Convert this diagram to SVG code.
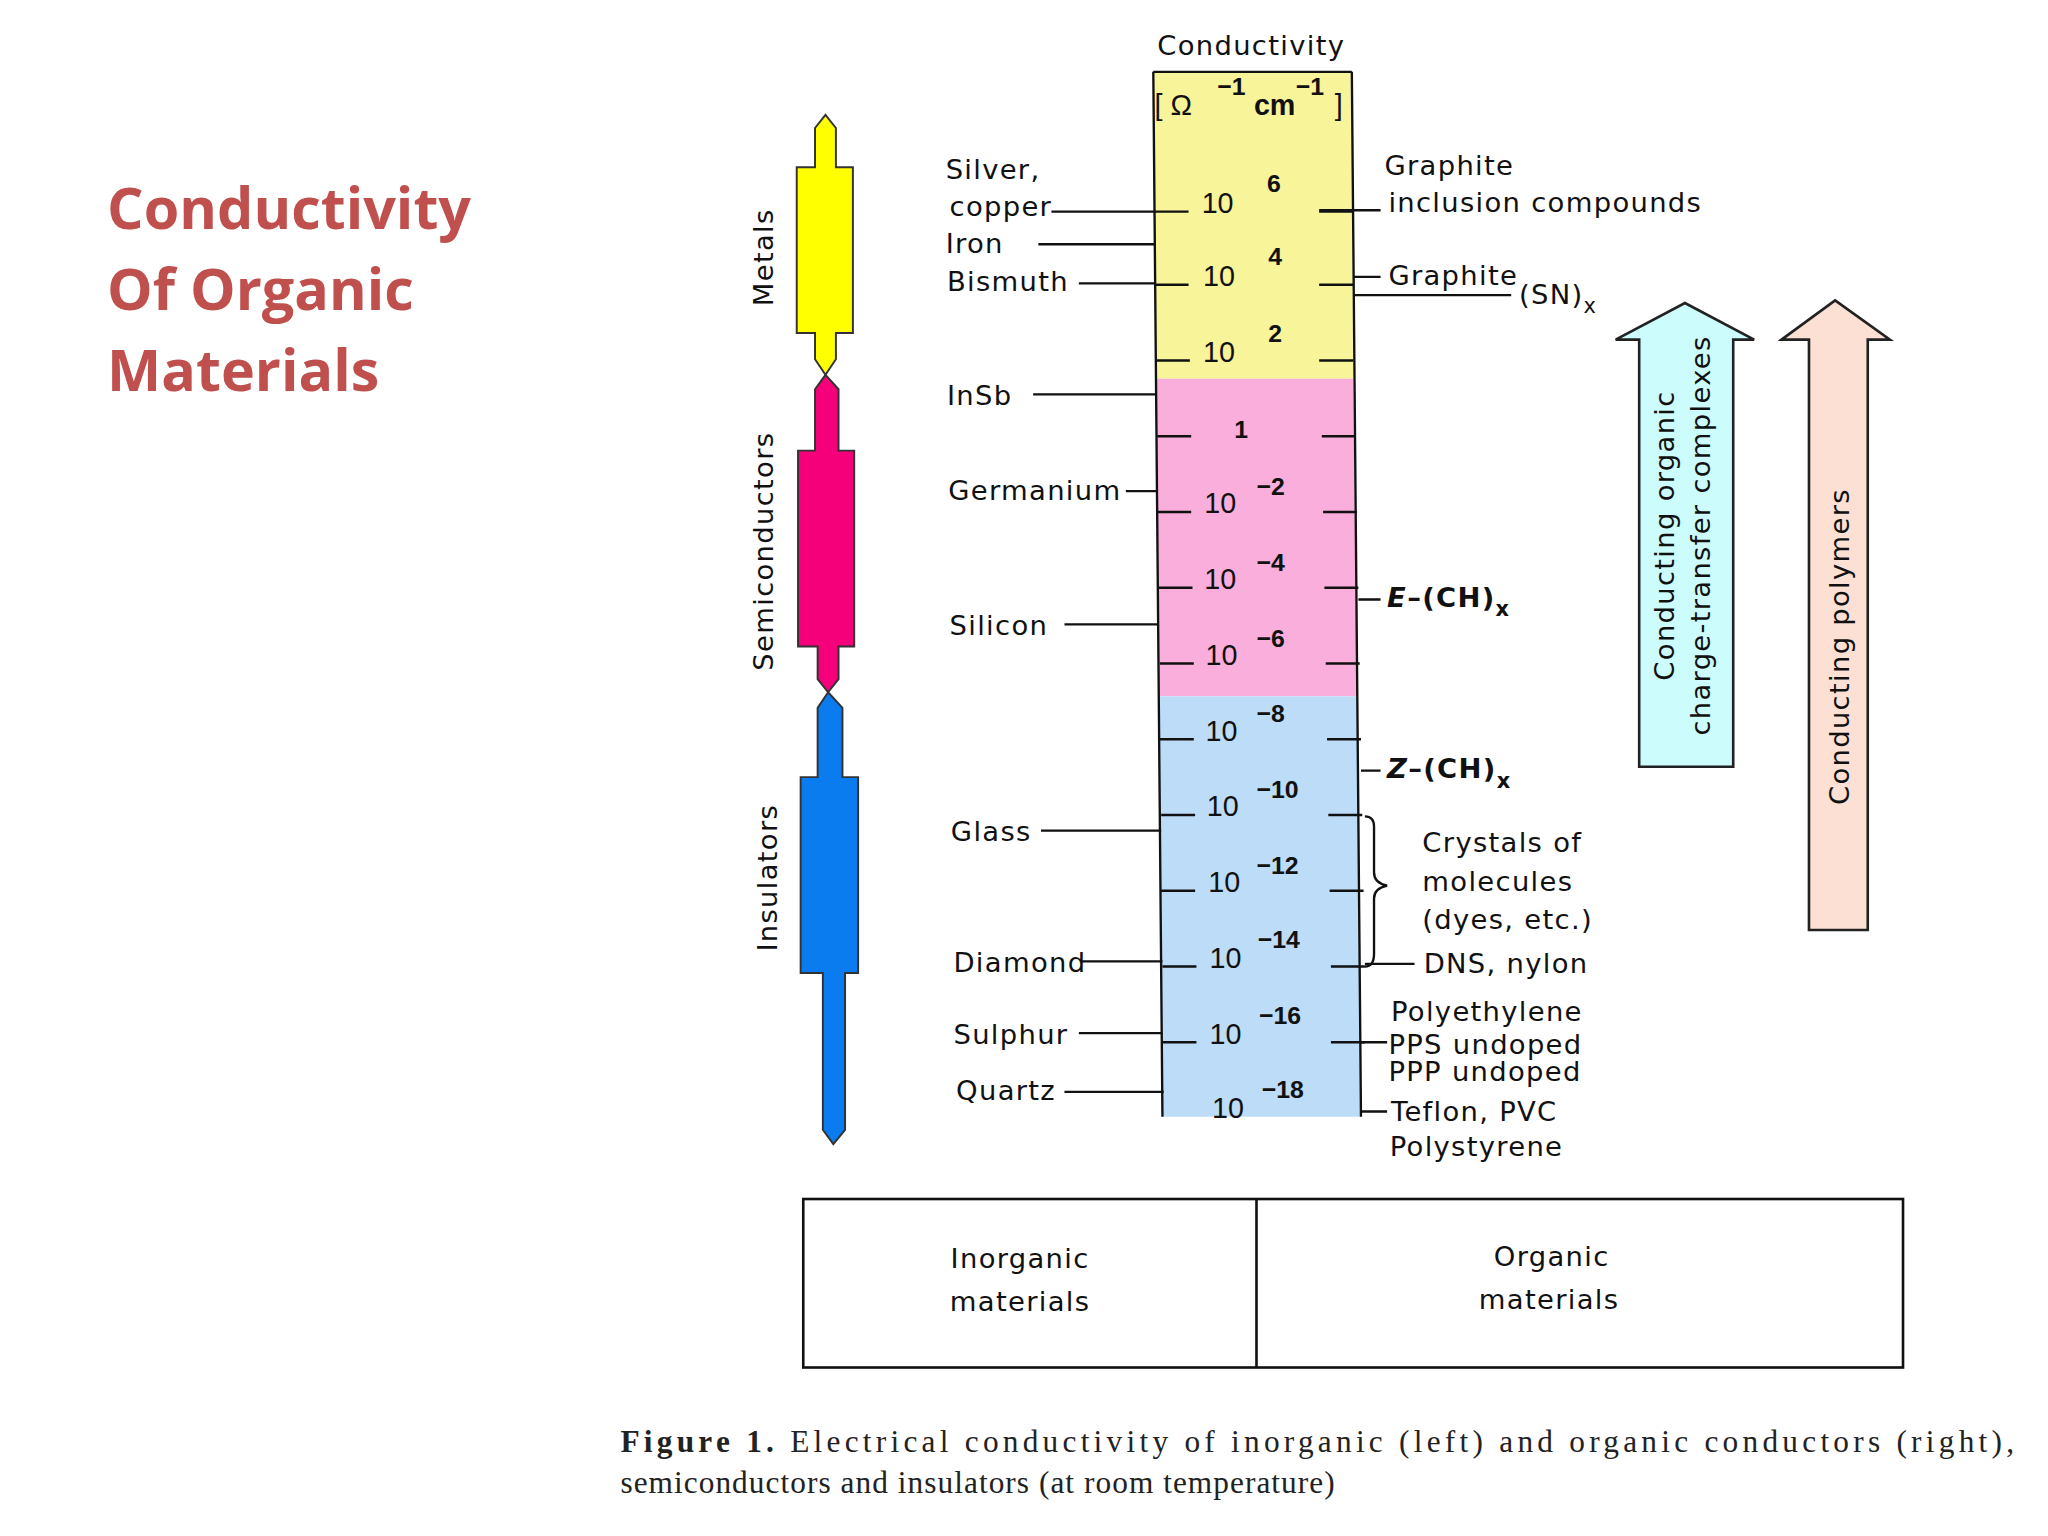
<svg xmlns="http://www.w3.org/2000/svg" width="2048" height="1536" viewBox="0 0 2048 1536">
<style>
.t{font-family:"DejaVu Sans","Liberation Sans",sans-serif;font-size:21px;letter-spacing:1px;fill:#111}
.n{font-family:"Liberation Sans",Arial,sans-serif;font-size:22px;fill:#111}
.e{font-family:"Liberation Sans",Arial,sans-serif;font-size:19px;font-weight:bold;fill:#111}
.ln{stroke:#111;stroke-width:1.8;fill:none}
.ttl{font-family:"Open Sans","Liberation Sans",sans-serif;font-size:44px;font-weight:bold;fill:#c0504d}
.cap{font-family:"Liberation Serif","Times New Roman",serif;font-size:24px;fill:#222}
</style>
<rect width="2048" height="1536" fill="#fff"/>
<g transform="scale(1.30612)">
<g id="title">
<text class="ttl" x="82" y="175">Conductivity</text>
<text class="ttl" x="82" y="237">Of Organic</text>
<text class="ttl" x="82" y="299">Materials</text>
</g>
<g id="bars">
<g stroke="#333" stroke-width="1.5">
<polygon fill="#ffff00" points="632,88 640,98 640,128 653,128 653,255 640,255 640,275 632,287 624,275 624,255 610,255 610,128 624,128 624,98"/>
<polygon fill="#f5007a" points="632,287 642,298 642,345 654,345 654,495 642,495 642,520 634,530 626,520 626,495 611,495 611,345 624,345 624,298"/>
<polygon fill="#0a7cf0" points="634,530 645,542 645,595 657,595 657,745 647,745 647,865 638,876 630,865 630,745 613,745 613,595 626,595 626,542"/>
</g>
<text class="t" transform="translate(592,197) rotate(-90)" text-anchor="middle">Metals</text>
<text class="t" transform="translate(592,422) rotate(-90)" text-anchor="middle">Semiconductors</text>
<text class="t" transform="translate(595,672) rotate(-90)" text-anchor="middle">Insulators</text>
</g>
<g id="column">
<polygon fill="#f8f49a" points="883,55 1035,55 1036,290 885,290"/>
<polygon fill="#f9aedb" points="885,290 1036,290 1039,533 887,533"/>
<polygon fill="#bcdcf8" points="887,533 1039,533 1042,855 890,855"/>
<path class="ln" d="M883,55 L1035,55 M883,55 L890,855 M1035,55 L1042,855"/>
<text class="t" x="958" y="42" text-anchor="middle">Conductivity</text>
<text class="n" x="884" y="88">[ Ω</text>
<text class="e" x="932" y="73">−1</text>
<text class="n" x="960" y="88" font-weight="bold">cm</text>
<text class="e" x="992" y="73">−1</text>
<text class="n" x="1022" y="88">]</text>
</g>
<g id="ticks" class="ln">
<path d="M884,162h26M1010,162h26M884,218h26M1010,218h26M885,276h26M1010,276h26M886,334h26M1012,334h26M886,392h26M1013,392h26M887,450h26M1014,450h26M888,508h26M1015,508h26M888,566h26M1016,566h26M889,624h26M1017,624h26M889,682h26M1018,682h26M890,740h26M1019,740h26M890,798h26M1019,798h26"/>
</g>
<g id="scale">
<text class="n" x="920" y="163">10</text><text class="e" x="970" y="147">6</text>
<text class="n" x="921" y="219">10</text><text class="e" x="971" y="203">4</text>
<text class="n" x="921" y="277">10</text><text class="e" x="971" y="262">2</text>
<text class="e" x="945" y="335">1</text>
<text class="n" x="922" y="393">10</text><text class="e" x="962" y="379">−2</text>
<text class="n" x="922" y="451">10</text><text class="e" x="962" y="437">−4</text>
<text class="n" x="923" y="509">10</text><text class="e" x="962" y="495">−6</text>
<text class="n" x="923" y="567">10</text><text class="e" x="962" y="553">−8</text>
<text class="n" x="924" y="625">10</text><text class="e" x="962" y="611">−10</text>
<text class="n" x="925" y="683">10</text><text class="e" x="962" y="669">−12</text>
<text class="n" x="926" y="741">10</text><text class="e" x="963" y="726">−14</text>
<text class="n" x="926" y="799">10</text><text class="e" x="964" y="784">−16</text>
<text class="n" x="928" y="856">10</text><text class="e" x="966" y="841">−18</text>
</g>
<g id="connectors" class="ln">
<path d="M805,162H884M795,187H884M826,217H884M791,302H885M862,376H886M815,478H887M797,636H889M828,736H890M826,791H890M815,836H891"/>
<path d="M1010,161H1057M1036,212H1057M1036,226H1157M1040,459H1057M1042,590H1057M1045,738H1083M1042,798H1062M1042,851H1062"/>
<path d="M1045,625 q7,0 7,8 v35 q0,8 10,10 q-10,2 -10,10 v42 q0,10 -7,10"/>
</g>
<g id="left-labels" class="t">
<text x="724" y="137">Silver,</text>
<text x="727" y="165">copper</text>
<text x="724" y="194">Iron</text>
<text x="725" y="223">Bismuth</text>
<text x="725" y="310">InSb</text>
<text x="726" y="383">Germanium</text>
<text x="727" y="486">Silicon</text>
<text x="728" y="644">Glass</text>
<text x="730" y="744">Diamond</text>
<text x="730" y="799">Sulphur</text>
<text x="732" y="842">Quartz</text>
</g>
<g id="right-labels" class="t">
<text x="1060" y="134">Graphite</text>
<text x="1063" y="162">inclusion compounds</text>
<text x="1063" y="218">Graphite</text>
<text x="1163" y="233">(SN)<tspan font-size="16" dy="7">x</tspan></text>
<text x="1062" y="465" font-weight="bold"><tspan font-style="italic">E</tspan>–(CH)<tspan font-size="16" dy="7">x</tspan></text>
<text x="1062" y="596" font-weight="bold"><tspan font-style="italic">Z</tspan>–(CH)<tspan font-size="16" dy="7">x</tspan></text>
<text x="1089" y="652">Crystals of</text>
<text x="1089" y="682">molecules</text>
<text x="1089" y="711">(dyes, etc.)</text>
<text x="1090" y="745">DNS, nylon</text>
<text x="1065" y="782">Polyethylene</text>
<text x="1063" y="807">PPS undoped</text>
<text x="1063" y="828">PPP undoped</text>
<text x="1065" y="858">Teflon, PVC</text>
<text x="1064" y="885">Polystyrene</text>
</g>
<g id="arrow-ct">
<polygon fill="#ccfcfc" stroke="#222" stroke-width="2" points="1290,232 1343,260 1327,260 1327,587 1255,587 1255,260 1237,260"/>
<text class="t" transform="translate(1282,410) rotate(-90)" text-anchor="middle">Conducting organic</text>
<text class="t" transform="translate(1309,410) rotate(-90)" text-anchor="middle">charge-transfer complexes</text>
</g>
<g id="arrow-cp">
<polygon fill="#fce0d4" stroke="#222" stroke-width="2" points="1405,230 1447,260 1430,260 1430,712 1385,712 1385,260 1364,260"/>
<text class="t" transform="translate(1416,495) rotate(-90)" text-anchor="middle">Conducting polymers</text>
</g>
<g id="materials-box">
<rect x="615" y="918" width="842" height="129" fill="none" stroke="#111" stroke-width="2"/>
<line x1="962" y1="918" x2="962" y2="1047" stroke="#111" stroke-width="2"/>
<text class="t" x="781" y="971" text-anchor="middle" letter-spacing="2">Inorganic</text>
<text class="t" x="781" y="1004" text-anchor="middle" letter-spacing="2">materials</text>
<text class="t" x="1188" y="969" text-anchor="middle" letter-spacing="2">Organic</text>
<text class="t" x="1186" y="1002" text-anchor="middle" letter-spacing="2">materials</text>
</g>
<g id="caption">
<text class="cap" x="475" y="1112" textLength="1067" lengthAdjust="spacing"><tspan font-weight="bold">Figure 1.</tspan> Electrical conductivity of inorganic (left) and organic conductors (right),</text>
<text class="cap" x="475" y="1143" letter-spacing="0.8">semiconductors and insulators (at room temperature)</text>
</g>
</g>
</svg>
